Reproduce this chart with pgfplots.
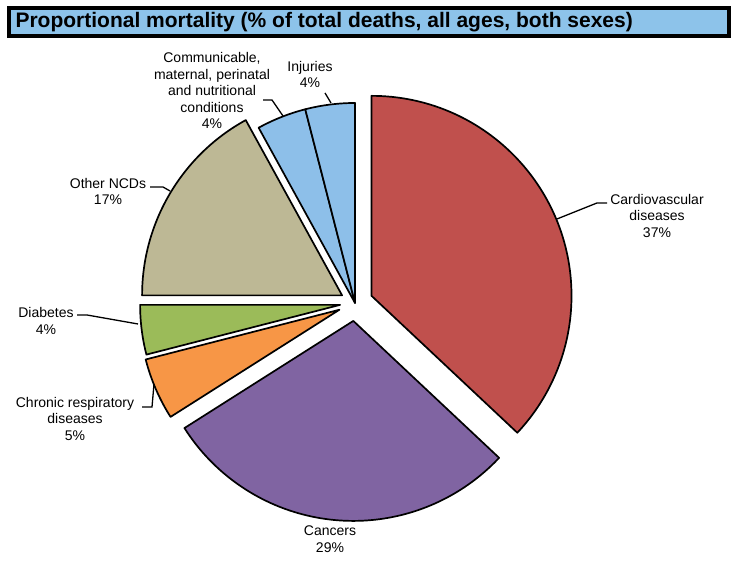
\documentclass[border=0pt]{standalone}
\usepackage{pgfplots}
\pgfplotsset{compat=1.18}
\usepackage{pgfplotstable}
\usepackage{fontspec}
\setmainfont{Liberation Sans}
\usetikzlibrary{calc}

\definecolor{cardio}{HTML}{C0504D}
\definecolor{cancer}{HTML}{8064A2}
\definecolor{resp}{HTML}{F79646}
\definecolor{diab}{HTML}{9BBB59}
\definecolor{ncd}{HTML}{BDB895}
\definecolor{comm}{HTML}{8DBFE9}
\definecolor{titleblue}{HTML}{8DC3EA}

% share of deaths, explode distance, colour (clockwise from 12 o'clock)
\pgfplotstableread{
pct explode col
37 18 cardio
29 18 cancer
5  17 resp
4  15 diab
17 15 ncd
4  0  comm
4  0  comm
}\piedata

\begin{document}
\begin{tikzpicture}
\begin{axis}[
  x=1bp, y=1bp,
  xmin=0, xmax=748, ymin=0, ymax=575,
  scale only axis, hide axis, clip=false,
]
\addplot[draw=none, forget plot] coordinates {(0,0) (748,575)};
\path (axis cs:0,0) rectangle (axis cs:748,575);

\pgfplotsextra{
  \pgfplotstablegetrowsof{\piedata}
  \pgfmathtruncatemacro\nrows{\pgfplotsretval-1}
  \xdef\angA{90}
  \foreach \i in {0,...,\nrows}{
    \pgfplotstablegetelem{\i}{pct}\of\piedata \let\p\pgfplotsretval
    \pgfplotstablegetelem{\i}{explode}\of\piedata \let\ex\pgfplotsretval
    \pgfplotstablegetelem{\i}{col}\of\piedata \let\slicecol\pgfplotsretval
    \pgfmathsetmacro\angB{\angA-3.6*\p}
    \pgfmathsetmacro\angM{(\angA+\angB)/2}
    \filldraw[fill=\slicecol, draw=black, line width=1.7bp, line join=round]
      ($(axis cs:355,272)+(\angM:\ex bp)$) -- +(\angA:200bp)
      arc[start angle=\angA, end angle=\angB, radius=200bp] -- cycle;
    \xdef\angA{\angB}
  }
}

% title
\draw[fill=titleblue, line width=4bp] (axis cs:9,539) rectangle (axis cs:729,567);
\node[anchor=west, font=\bfseries\fontsize{21bp}{24bp}\selectfont]
  at (axis cs:12,552.5) {Proportional mortality (\% of total deaths, all ages, both sexes)};

% leader lines
\draw[line width=1.3bp] (axis cs:557,356) -- (axis cs:597,372) -- (axis cs:607,372);
\draw[line width=1.3bp] (axis cs:77,260) -- (axis cs:87,260) -- (axis cs:138,251);
\draw[line width=1.3bp] (axis cs:142,168) -- (axis cs:152,168) -- (axis cs:154,191);
\draw[line width=1.3bp] (axis cs:150,388) -- (axis cs:163,388) -- (axis cs:170,384);
\draw[line width=1.3bp] (axis cs:263,475) -- (axis cs:272,475) -- (axis cs:283,459);
\draw[line width=1.3bp] (axis cs:325,482) -- (axis cs:331,472);

% labels
\tikzset{lbl/.style={align=center, font=\fontsize{14bp}{16.5bp}\selectfont, inner sep=0pt}}
\node[lbl] at (axis cs:657,359) {Cardiovascular\\diseases\\37\%};
\node[lbl] at (axis cs:330,36) {Cancers\\29\%};
\node[lbl] at (axis cs:75,156) {Chronic respiratory\\diseases\\5\%};
\node[lbl] at (axis cs:46,254) {Diabetes\\4\%};
\node[lbl] at (axis cs:108,383.5) {Other NCDs\\17\%};
\node[lbl] at (axis cs:212,484.5) {Communicable,\\maternal, perinatal\\and nutritional\\conditions\\4\%};
\node[lbl] at (axis cs:310,500.5) {Injuries\\4\%};
\end{axis}
\end{tikzpicture}
\end{document}
